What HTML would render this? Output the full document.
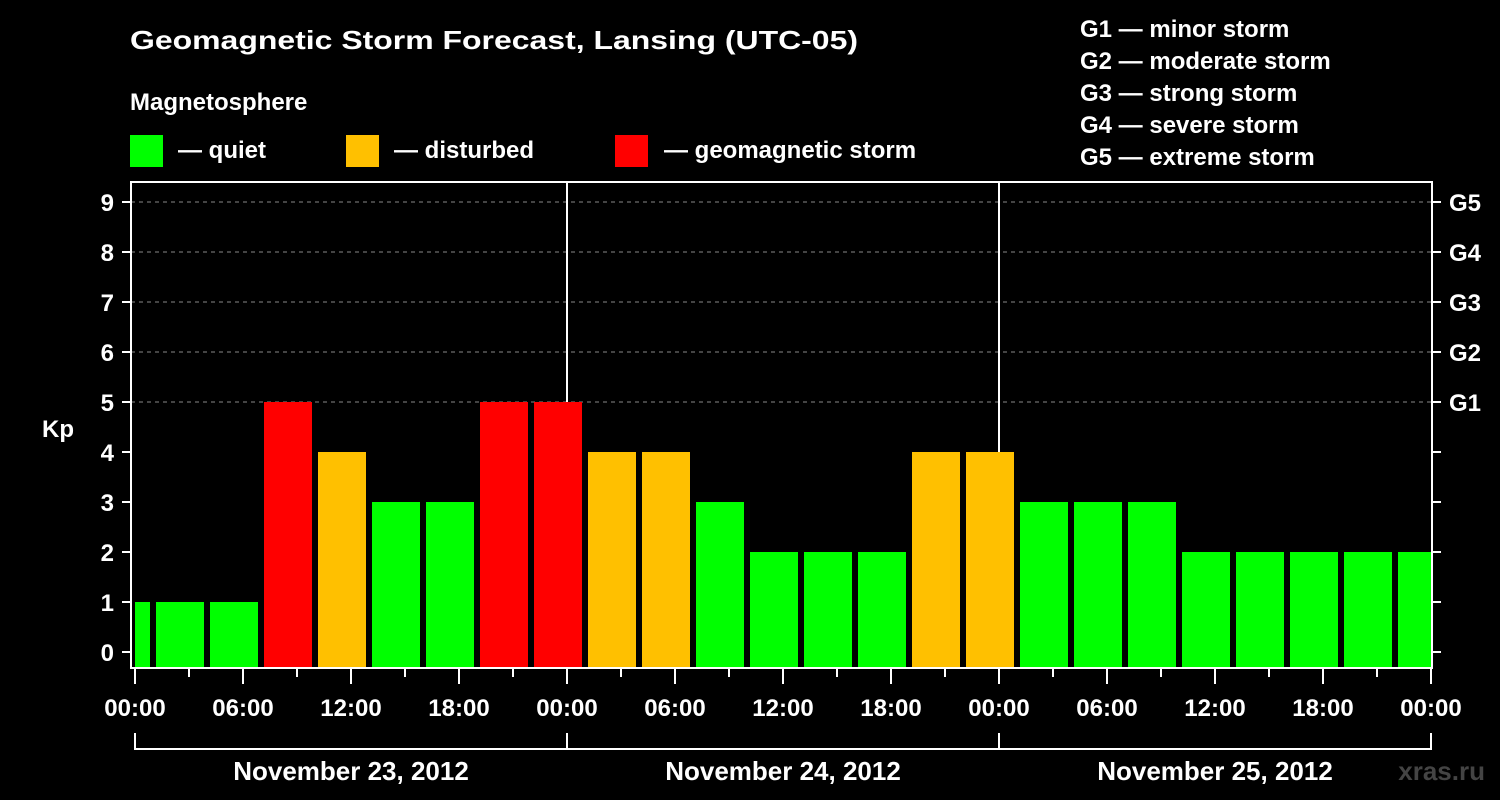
<!DOCTYPE html>
<html><head><meta charset="utf-8"><style>
html,body{margin:0;padding:0;background:#000;}
svg{display:block;font-family:"Liberation Sans",Arial,sans-serif;font-weight:bold;}
</style></head><body>
<svg id="chart" width="1500" height="800" viewBox="0 0 1500 800">
<rect x="0" y="0" width="1500" height="800" fill="#000"/>
<text x="130" y="49" fill="#fff" font-size="26" textLength="728" lengthAdjust="spacingAndGlyphs">Geomagnetic Storm Forecast, Lansing (UTC-05)</text>
<text x="130" y="110" fill="#fff" font-size="24">Magnetosphere</text>
<g><rect x="130" y="135" width="33" height="32" fill="#00ff00"/><text x="178" y="158" fill="#fff" font-size="24">— quiet</text></g>
<g><rect x="346" y="135" width="33" height="32" fill="#ffc000"/><text x="394" y="158" fill="#fff" font-size="24">— disturbed</text></g>
<g><rect x="615" y="135" width="33" height="32" fill="#ff0000"/><text x="664" y="158" fill="#fff" font-size="24">— geomagnetic storm</text></g>
<g fill="#fff" font-size="24">
<text x="1080" y="37">G1 — minor storm</text>
<text x="1080" y="69">G2 — moderate storm</text>
<text x="1080" y="101">G3 — strong storm</text>
<text x="1080" y="133">G4 — severe storm</text>
<text x="1080" y="165">G5 — extreme storm</text>
</g>
<text x="42" y="437" fill="#fff" font-size="24">Kp</text>
<text x="1485" y="780" fill="#444" font-size="26" text-anchor="end">xras.ru</text>
<g id="plot"></g>
</svg>
<script>
const kpValues = [1,1,1,5,4,3,3,5,5,4,4,3,2,2,2,4,4,3,3,3,2,2,2,2,2];
const barStartHour = -2; // first bar starts 2 hours before the first midnight
const yTicks = [0,1,2,3,4,5,6,7,8,9];
const gLabels = ["G1","G2","G3","G4","G5"];
const xTickLabels = ["00:00","06:00","12:00","18:00","00:00","06:00","12:00","18:00","00:00","06:00","12:00","18:00","00:00"];
const dayLabels = ["November 23, 2012","November 24, 2012","November 25, 2012"];

const NS="http://www.w3.org/2000/svg";
const plot=document.getElementById('plot');
const X0=135, PX_PER_H=18, Y0=652, PX_PER_KP=50;
const LEFT=131, RIGHT=1432, TOP=182, BOTTOM=668;
const totalH=72;
const xs=h=>X0+h*PX_PER_H;
const ys=v=>Y0-v*PX_PER_KP;
function mk(tag,attrs){const e=document.createElementNS(NS,tag);for(const k in attrs)e.setAttribute(k,attrs[k]);plot.appendChild(e);return e;}
function col(v){return v>=5?'#ff0000':(v>=4?'#ffc000':'#00ff00');}

// grid
for(let v=5;v<=9;v++){
  const l=mk('line',{x1:LEFT,x2:RIGHT,y1:ys(v),y2:ys(v),stroke:'#888','stroke-width':1,'stroke-dasharray':'4,4'});
  
  
}
// day dividers
for(let d=1;d<3;d++){
  const l=mk('line',{x1:xs(d*24),x2:xs(d*24),y1:TOP,y2:BOTTOM,stroke:'#fff','stroke-width':2});
  
  
}
// bars
kpValues.forEach((v,i)=>{
  let h0=barStartHour+i*3, h1=h0+3;
  let x0=xs(h0)+3, x1=xs(h1)-3;
  x0=Math.max(x0,xs(0)); x1=Math.min(x1,xs(totalH));
  if(x1<=x0)return;
  const r=mk('rect',{x:x0,y:ys(v),width:x1-x0,height:BOTTOM-ys(v),fill:col(v)});
  
  
});
// frame
const fr=mk('rect',{x:LEFT,y:TOP,width:RIGHT-LEFT,height:BOTTOM-TOP,fill:'none',stroke:'#fff','stroke-width':2});


// y ticks
yTicks.forEach(v=>{
  mk('line',{x1:LEFT-9,x2:LEFT,y1:ys(v),y2:ys(v),stroke:'#fff','stroke-width':2});
  mk('line',{x1:RIGHT,x2:RIGHT+9,y1:ys(v),y2:ys(v),stroke:'#fff','stroke-width':2});
  const t=mk('text',{x:114,y:ys(v)+9,fill:'#fff','font-size':24,'text-anchor':'end'});
  t.textContent=v;
  
  
});
gLabels.forEach((g,i)=>{
  const t=mk('text',{x:1449,y:ys(5+i)+9,fill:'#fff','font-size':24});
  t.textContent=g;
  
  
});
// x ticks
for(let h=0;h<=totalH;h+=3){
  const major=h%6===0;
  mk('line',{x1:xs(h),x2:xs(h),y1:BOTTOM,y2:BOTTOM+(major?16:9),stroke:'#fff','stroke-width':2});
}
xTickLabels.forEach((s,i)=>{
  const t=mk('text',{x:xs(i*6),y:716,fill:'#fff','font-size':24,'text-anchor':'middle'});
  t.textContent=s;
  
  
});
// date bracket
mk('line',{x1:xs(0),x2:xs(totalH),y1:749,y2:749,stroke:'#fff','stroke-width':2});
for(let d=0;d<=3;d++) mk('line',{x1:xs(d*24),x2:xs(d*24),y1:733,y2:750,stroke:'#fff','stroke-width':2});
dayLabels.forEach((s,i)=>{
  const t=mk('text',{x:xs(i*24+12),y:780,fill:'#fff','font-size':26,'text-anchor':'middle'});
  t.textContent=s;
  
  
});
</script>
</body></html>
